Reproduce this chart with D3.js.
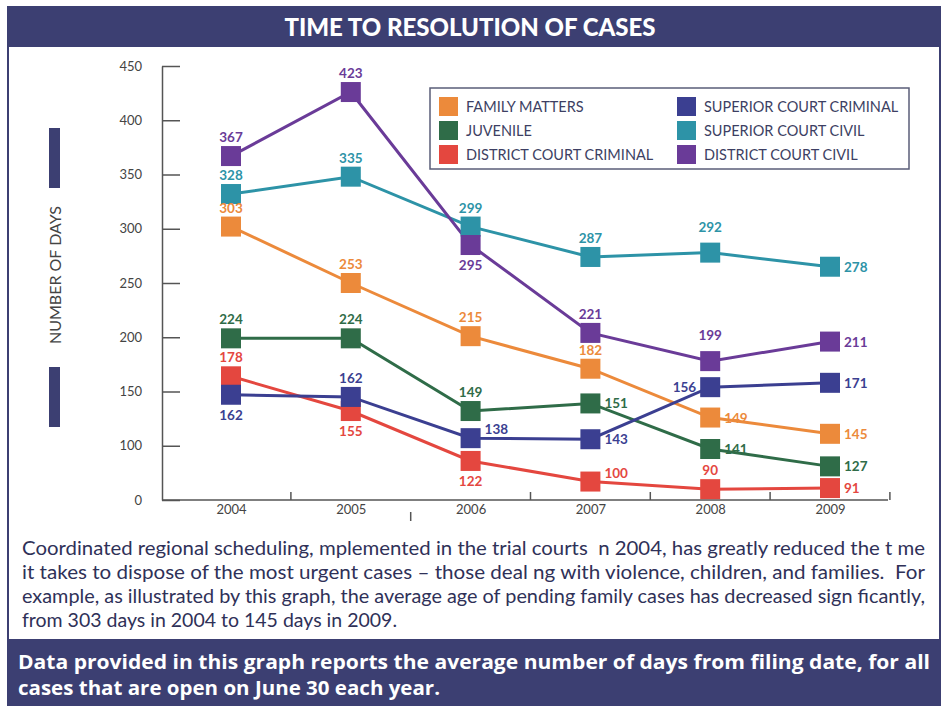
<!DOCTYPE html>
<html>
<head>
<meta charset="utf-8">
<script src="https://cdn.jsdelivr.net/npm/d3@7"></script>
<style>
  body { margin: 0; background: #fff; }
  svg { display: block; }
</style>
</head>
<body>
<div id="chart"></div>
<script>
// years on the x axis
var years = [2004, 2005, 2006, 2007, 2008, 2009];

// y axis ticks (axis is broken: bottom tick reads 0)
var tickValues = [50, 100, 150, 200, 250, 300, 350, 400, 450];
var tickLabels = ["0", "100", "150", "200", "250", "300", "350", "400", "450"];

var seriesNames = ["FAMILY MATTERS", "JUVENILE", "DISTRICT COURT CRIMINAL",
    "SUPERIOR COURT CRIMINAL", "SUPERIOR COURT CIVIL", "DISTRICT COURT CIVIL"];

// marker heights as they sit against the axis
var familyPlotted   = [302, 250, 201, 171, 126, 111];
var juvenilePlotted = [199, 199, 132, 139, 97, 81];
var distCrimPlotted = [164, 132, 86, 67, 60, 61];
var supCrimPlotted  = [147, 145, 107, 106, 154, 158];
var supCivPlotted   = [332, 348, 302, 274, 278, 265];
var distCivPlotted  = [367, 426, 285, 204, 178, 196];

// values printed next to the markers
var familyLabels   = [303, 253, 215, 182, 149, 145];
var juvenileLabels = [224, 224, 149, 151, 141, 127];
var distCrimLabels = [178, 155, 122, 100, 90, 91];
var supCrimLabels  = [162, 162, 138, 143, 156, 171];
var supCivLabels   = [328, 335, 299, 287, 292, 278];
var distCivLabels  = [367, 423, 295, 221, 199, 211];

// where each printed value sits: a above, A higher above, b below, r right, ru right-up, l left
var familyPlace   = ["a", "a", "a", "a", "r", "r"];
var juvenilePlace = ["a", "a", "a", "r", "r", "r"];
var distCrimPlace = ["a", "b", "b", "ru", "a", "r"];
var supCrimPlace  = ["b", "a", "ru", "r", "l", "r"];
var supCivPlace   = ["a", "a", "a", "a", "A", "r"];
var distCivPlace  = ["a", "a", "b", "a", "A", "r"];

var colors = ["#ec8a3b", "#2f6c48", "#e4473f", "#3b3f91", "#2d93a7", "#6a3b98"];

var paragraph = [
    "Coordinated regional scheduling, mplemented in the trial courts  n 2004, has greatly reduced the t me",
    "it takes to dispose of the most urgent cases \u2013 those deal ng with violence, children, and families.  For",
    "example, as illustrated by this graph, the average age of pending family cases has decreased sign ficantly,",
    "from 303 days in 2004 to 145 days in 2009."
];
var footnote = [
    "Data provided in this graph reports the average number of days from filing date, for all",
    "cases that are open on June 30 each year."
];

var plotted = [familyPlotted, juvenilePlotted, distCrimPlotted, supCrimPlotted, supCivPlotted, distCivPlotted];
var labels = [familyLabels, juvenileLabels, distCrimLabels, supCrimLabels, supCivLabels, distCivLabels];
var places = [familyPlace, juvenilePlace, distCrimPlace, supCrimPlace, supCivPlace, distCivPlace];

var series = seriesNames.map(function (name, s) {
    return {
        name: name,
        color: colors[s],
        points: years.map(function (yr, i) {
            return { year: yr, v: plotted[s][i], label: labels[s][i], place: places[s][i], color: colors[s] };
        })
    };
});
var allPoints = [];
series.forEach(function (s) { allPoints = allPoints.concat(s.points); });

var width = 947, height = 706;
var navy = "#3c3f72";
var font = "Lato, 'Open Sans', sans-serif";

var svg = d3.select("#chart").append("svg")
    .attr("width", width)
    .attr("height", height);

// frame and title band
svg.append("rect").attr("x", 8).attr("y", 40).attr("width", 932).attr("height", 600)
    .attr("fill", "#fff").attr("stroke", navy).attr("stroke-width", 2);
svg.append("rect").attr("x", 7).attr("y", 6).attr("width", 934).attr("height", 41)
    .attr("fill", navy);
svg.append("text")
    .attr("x", 470).attr("y", 36)
    .attr("text-anchor", "middle")
    .attr("fill", "#fff")
    .style("font-family", font)
    .style("font-weight", 900)
    .style("font-size", "24px")
    .text("TIME TO RESOLUTION OF CASES");

// scales
var x = d3.scalePoint().domain(years).range([231, 830]);
var y = d3.scaleLinear().domain([50, 450]).range([500, 66]);
var plotLeft = 162, plotRight = 888;

// y axis
var yAxis = d3.axisLeft(y)
    .tickValues(tickValues)
    .tickSizeInner(-18)
    .tickSizeOuter(0)
    .tickPadding(20)
    .tickFormat(function (d, i) { return tickLabels[i]; });

var gy = svg.append("g").attr("transform", "translate(" + plotLeft + ",0)").call(yAxis);
gy.select(".domain").attr("stroke", "#555").attr("stroke-width", 1.5);
gy.selectAll(".tick line").attr("stroke", "#555").attr("stroke-width", 1.5);
gy.selectAll(".tick text")
    .attr("fill", "#444")
    .style("font-family", font)
    .style("font-size", "13px");

// x axis
var xAxis = d3.axisBottom(x).tickSize(0).tickPadding(5);
var gx = svg.append("g").attr("transform", "translate(0," + y(50) + ")").call(xAxis);
gx.select(".domain").remove();
gx.selectAll(".tick text")
    .attr("fill", "#444")
    .style("font-family", font)
    .style("font-size", "13px");
svg.append("line")
    .attr("x1", plotLeft).attr("x2", plotRight)
    .attr("y1", y(50)).attr("y2", y(50))
    .attr("stroke", "#555").attr("stroke-width", 1.5);

// small separator ticks between years (one of them hangs below the axis)
svg.selectAll(".sep")
    .data(years)
    .enter()
    .append("line")
    .attr("class", "sep")
    .attr("x1", function (d) { return x(d) + x.step() / 2; })
    .attr("x2", function (d) { return x(d) + x.step() / 2; })
    .attr("y1", function (d) { return d == 2005 ? y(50) + 12 : y(50) - 8; })
    .attr("y2", function (d) { return d == 2005 ? y(50) + 21 : y(50); })
    .attr("stroke", "#555")
    .attr("stroke-width", 1.5);

// y axis title with the two bars
svg.append("rect").attr("x", 49).attr("y", 128).attr("width", 11).attr("height", 60).attr("fill", navy);
svg.append("rect").attr("x", 49).attr("y", 367).attr("width", 11).attr("height", 60).attr("fill", navy);
svg.append("text")
    .attr("transform", "translate(61,275) rotate(-90)")
    .attr("text-anchor", "middle")
    .attr("fill", "#444")
    .style("font-family", font)
    .style("font-weight", 400)
    .style("font-size", "16px")
    .text("NUMBER OF DAYS");

// lines
var line = d3.line()
    .x(function (d) { return x(d.year); })
    .y(function (d) { return y(d.v); });

svg.selectAll(".series-line")
    .data(series)
    .enter()
    .append("path")
    .attr("class", "series-line")
    .attr("d", function (d) { return line(d.points); })
    .attr("fill", "none")
    .attr("stroke", function (d) { return d.color; })
    .attr("stroke-width", 3);

// markers
var size = 20;
svg.selectAll(".marker")
    .data(allPoints)
    .enter()
    .append("rect")
    .attr("class", "marker")
    .attr("x", function (d) { return x(d.year) - size / 2; })
    .attr("y", function (d) { return y(d.v) - size / 2; })
    .attr("width", size)
    .attr("height", size)
    .attr("fill", function (d) { return d.color; });

// value labels
function labelDx(p) {
    if (p == "r" || p == "ru") return 14;
    if (p == "l") return -14;
    return 0;
}
function labelDy(p) {
    if (p == "a") return -14;
    if (p == "A") return -21;
    if (p == "b") return 25;
    if (p == "ru") return -4;
    return 5;
}
function labelAnchor(p) {
    if (p == "r" || p == "ru") return "start";
    if (p == "l") return "end";
    return "middle";
}

svg.selectAll(".value")
    .data(allPoints)
    .enter()
    .append("text")
    .attr("class", "value")
    .attr("x", function (d) { return x(d.year) + labelDx(d.place); })
    .attr("y", function (d) { return y(d.v) + labelDy(d.place); })
    .attr("text-anchor", function (d) { return labelAnchor(d.place); })
    .attr("fill", function (d) { return d.color; })
    .style("font-family", font)
    .style("font-weight", 700)
    .style("font-size", "13.5px")
    .text(function (d) { return d.label; });

// legend
var legend = svg.append("g").attr("transform", "translate(430,88)");
legend.append("rect")
    .attr("width", 479).attr("height", 81)
    .attr("fill", "#fff")
    .attr("stroke", "#5a5d78")
    .attr("stroke-width", 1.5);

var items = legend.selectAll(".item")
    .data(series)
    .enter()
    .append("g")
    .attr("class", "item")
    .attr("transform", function (d, i) {
        var col = Math.floor(i / 3), row = i % 3;
        return "translate(" + (9 + col * 238) + "," + (9 + row * 24) + ")";
    });
items.append("rect")
    .attr("width", 19).attr("height", 19)
    .attr("fill", function (d) { return d.color; });
items.append("text")
    .attr("x", 27).attr("y", 15)
    .attr("fill", "#3d3f63")
    .style("font-family", font)
    .style("font-size", "14.5px")
    .text(function (d) { return d.name; });

// paragraph
svg.selectAll(".para")
    .data(paragraph)
    .enter()
    .append("text")
    .attr("class", "para")
    .attr("x", 22)
    .attr("y", function (d, i) { return 555 + i * 24; })
    .attr("fill", "#2f3158")
    .style("font-family", font)
    .style("font-size", "19.5px")
    .style("white-space", "pre")
    .each(function (d, i) {
        if (i < paragraph.length - 1) {
            d3.select(this).attr("textLength", 903).attr("lengthAdjust", "spacingAndGlyphs");
        }
    })
    .text(function (d) { return d; });

// bottom band
svg.append("rect").attr("x", 7).attr("y", 640).attr("width", 934).attr("height", 66).attr("fill", navy);
var footWidths = [912, 422];
svg.selectAll(".foot")
    .data(footnote)
    .enter()
    .append("text")
    .attr("class", "foot")
    .attr("x", 18)
    .attr("y", function (d, i) { return 669 + i * 26; })
    .attr("fill", "#fff")
    .style("font-family", "'Open Sans', sans-serif")
    .style("font-weight", 700)
    .style("font-size", "19px")
    .attr("textLength", function (d, i) { return footWidths[i]; })
    .attr("lengthAdjust", "spacingAndGlyphs")
    .text(function (d) { return d; });
</script>
</body>
</html>
